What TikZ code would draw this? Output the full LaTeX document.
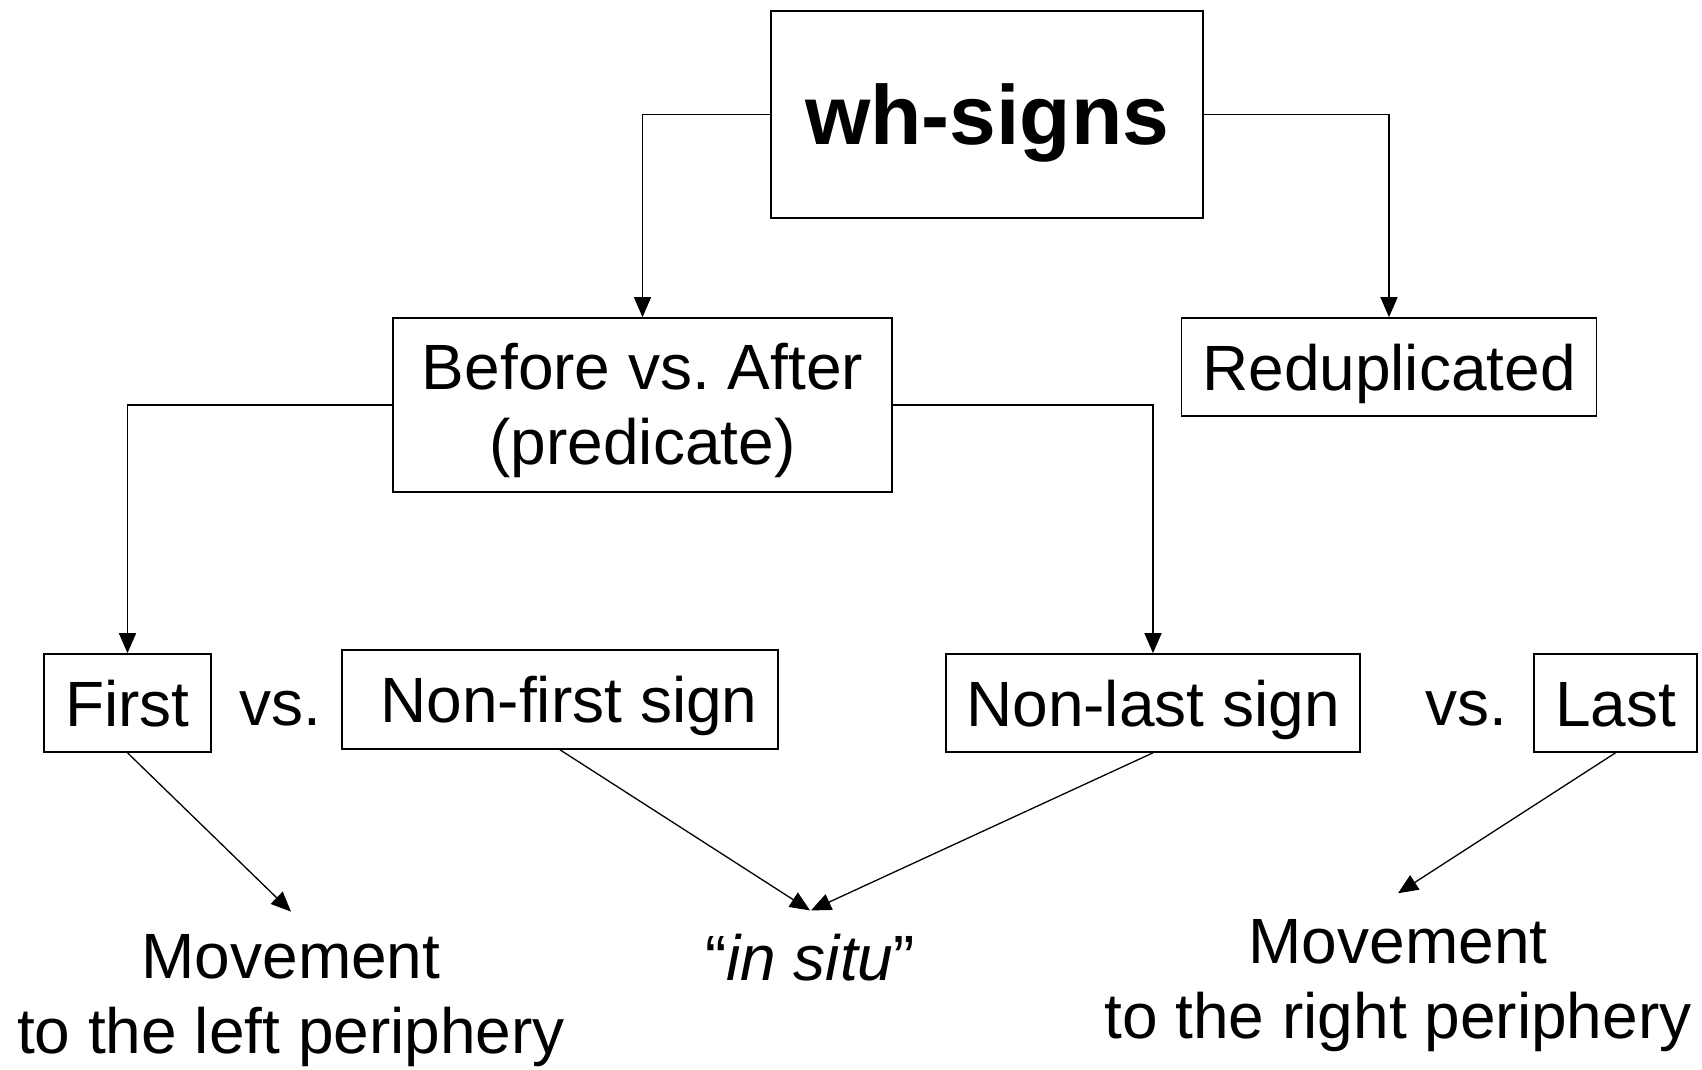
\documentclass[tikz,border=0pt]{standalone}
\usepackage{fontspec}
\setmainfont{Liberation Sans}
\usetikzlibrary{arrows.meta}
\frenchspacing
\begin{document}
\begin{tikzpicture}[x=1pt,y=-1pt,
  box/.style={draw, line width=1.6pt, inner sep=0pt, font=\fontsize{64}{75}\selectfont},
  onebox/.style={box, text height=46pt, text depth=0pt},
  plain/.style={inner sep=0pt, font=\fontsize{64}{75}\selectfont},
  conn/.style={line width=1.3pt, -{Triangle[length=20pt,width=17pt]}},
]
\useasboundingbox (0,0) rectangle (1702,1069);
% boxes
\node[box, minimum width=432pt, minimum height=207pt,
      font=\bfseries\fontsize{84}{96}\selectfont, text height=59pt, text depth=0pt]
      (wh) at (987,114.5) {wh-signs};
\node[box, minimum width=499pt, minimum height=174pt, align=center]
      (before) at (642.5,405) {\rule{0pt}{58pt}Before vs. After\\(predicate)};
\node[onebox, minimum width=415pt, minimum height=98pt] (redup) at (1389,367) {Reduplicated};
\node[onebox, minimum width=167pt, minimum height=98pt] (first) at (127.5,703) {First};
\node[onebox, minimum width=436pt, minimum height=99pt] (nonfirst) at (560,699.5) {\hspace{18pt}Non-first sign};
\node[onebox, minimum width=414pt, minimum height=98pt] (nonlast) at (1153,703) {Non-last sign};
\node[onebox, minimum width=163pt, minimum height=98pt] (last) at (1615.5,703) {Last};
% free texts
\node[plain, anchor=base] (vs1) at (280,725) {vs.};
\node[plain, anchor=base] (vs2) at (1466,725) {vs.};
\node[plain, align=center] (moveL) at (291,1001) {Movement\\to the left periphery};
\node[plain, anchor=base] (insitu) at (810,980) {``\textit{in situ}''};
\node[plain, align=center] (moveR) at (1398,985.6) {Movement\\to the right periphery};
% connectors
\draw[conn] (wh.west) -| (before.north);
\draw[conn] (wh.east) -| (redup.north);
\draw[conn] (before.west) -| (first.north);
\draw[conn] (before.east) -| (nonlast.north);
\draw[conn] (first.south) -- ([yshift=23pt]moveL.north);
\draw[conn] (nonfirst.south) -- ([yshift=23pt]insitu.north);
\draw[conn] (nonlast.south) -- ([xshift=1pt,yshift=23pt]insitu.north);
\draw[conn] (last.south) -- ([yshift=26pt]moveR.north);
\end{tikzpicture}
\end{document}
